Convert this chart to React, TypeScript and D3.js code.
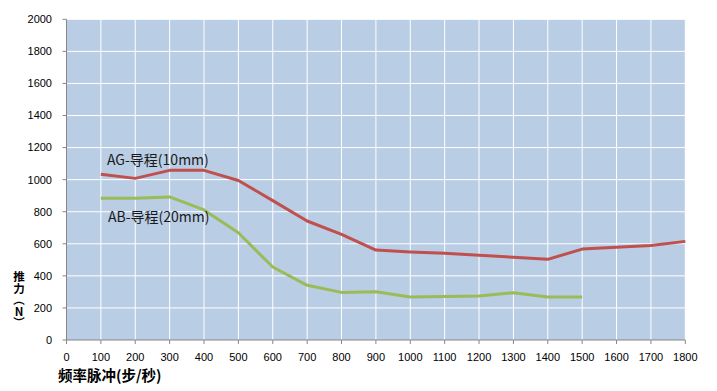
import React from "react";
import * as d3 from "d3";

const xTicks = [0, 100, 200, 300, 400, 500, 600, 700, 800, 900, 1000, 1100, 1200, 1300, 1400, 1500, 1600, 1700, 1800];
const yTicks = [0, 200, 400, 600, 800, 1000, 1200, 1400, 1600, 1800, 2000];

const agX = [100, 200, 300, 400, 500, 600, 700, 800, 900, 1000, 1100, 1200, 1300, 1400, 1500, 1600, 1700, 1800];
const agY = [1033, 1008, 1058, 1058, 995, 869, 742, 659, 561, 549, 541, 528, 516, 503, 567, 578, 590, 615];

const abX = [100, 200, 300, 400, 500, 600, 700, 800, 900, 1000, 1100, 1200, 1300, 1400, 1500];
const abY = [884, 884, 892, 811, 669, 455, 341, 297, 301, 268, 272, 274, 295, 268, 268];

const agLabel = "AG-导程(10mm)";
const abLabel = "AB-导程(20mm)";
const xTitle = "频率脉冲(步/秒)";
const yTitle = "推力（N）";

export default function App() {
  const W = 717, H = 391;
  const left = 66.5, right = 685.3, top = 19.3, bottom = 340;
  const x = d3.scaleLinear().domain([0, 1800]).range([left, right]);
  const y = d3.scaleLinear().domain([0, 2000]).range([bottom, top]);
  const line = d3.line<[number, number]>().x(d => x(d[0])).y(d => y(d[1]));
  const ag = agX.map((v, i) => [v, agY[i]] as [number, number]);
  const ab = abX.map((v, i) => [v, abY[i]] as [number, number]);
  const font = "Liberation Sans, Arial, sans-serif";
  const cjk = "Noto Sans CJK SC, sans-serif";
  return (
    <svg width={W} height={H} style={{ position: "absolute", left: 0, top: 0 }}>
      <rect x={0} y={0} width={W} height={H} fill="#fff" />
      <rect x={left} y={top} width={right - left} height={bottom - top} fill="#B9CDE5" />
      {xTicks.slice(1).map(t => (
        <line key={"gx" + t} x1={x(t)} x2={x(t)} y1={top} y2={bottom} stroke="#fff" strokeWidth={1} />
      ))}
      {yTicks.slice(1).map(t => (
        <line key={"gy" + t} x1={left} x2={right} y1={y(t)} y2={y(t)} stroke="#fff" strokeWidth={1} />
      ))}
      <line x1={left} x2={left} y1={top} y2={bottom} stroke="#868686" />
      <line x1={left} x2={right} y1={bottom} y2={bottom} stroke="#868686" />
      {yTicks.map(t => (
        <g key={"ty" + t}>
          <line x1={left - 4} x2={left} y1={y(t)} y2={y(t)} stroke="#868686" />
          <text x={52} y={y(t)} dy="0.35em" textAnchor="end" fontSize={11} fontFamily={font} fill="#000">{t}</text>
        </g>
      ))}
      {xTicks.map(t => (
        <g key={"tx" + t}>
          <line x1={x(t)} x2={x(t)} y1={bottom} y2={bottom + 4} stroke="#868686" />
          <text x={x(t)} y={357} dy="0.35em" textAnchor="middle" fontSize={11} fontFamily={font} fill="#000">{t}</text>
        </g>
      ))}
      <path d={line(ag) || ""} fill="none" stroke="#C0504D" strokeWidth={3} strokeLinejoin="round" />
      <path d={line(ab) || ""} fill="none" stroke="#9BBB59" strokeWidth={3} strokeLinejoin="round" />
      <text x={107} y={160} dy="0.35em" fontSize={14} fontFamily={cjk} fill="#1a1a1a">{agLabel}</text>
      <text x={108} y={217} dy="0.35em" fontSize={14} fontFamily={cjk} fill="#1a1a1a">{abLabel}</text>
      <text x={58} y={376} dy="0.35em" fontSize={14.5} fontWeight="bold" fontFamily={cjk} fill="#000">{xTitle}</text>
      <text x={19} y={271} fontSize={11.5} fontWeight="bold" fontFamily={cjk} fill="#000"
        style={{ writingMode: "vertical-rl", textOrientation: "upright" } as any}>{yTitle}</text>
    </svg>
  );
}
